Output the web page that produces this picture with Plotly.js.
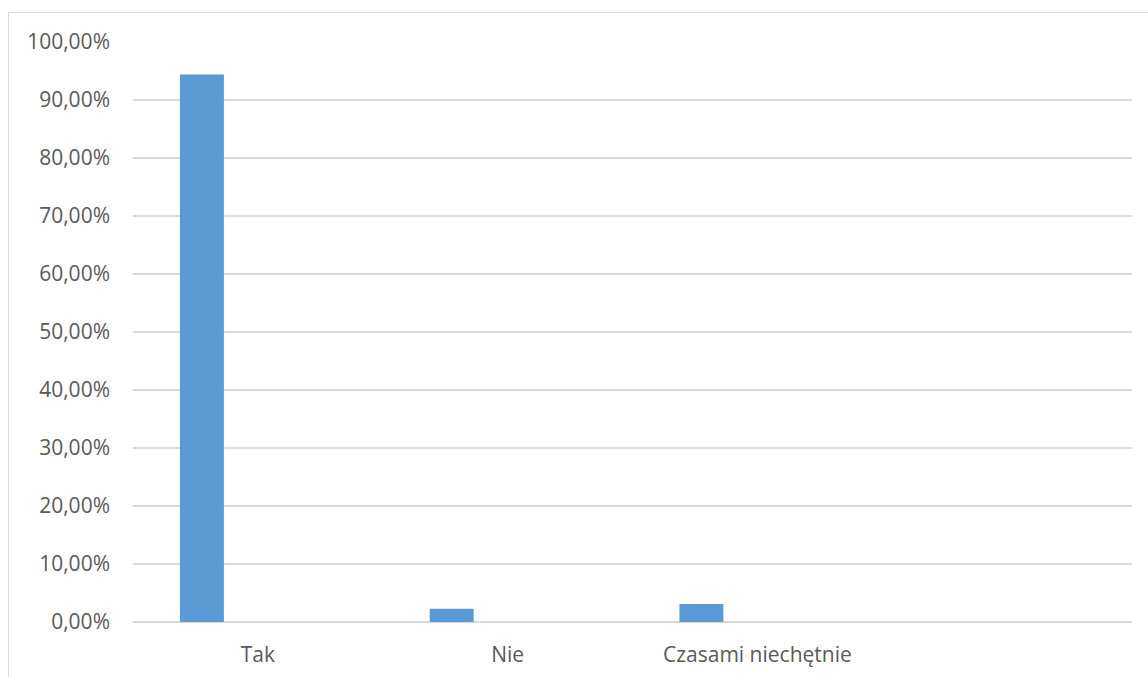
<!DOCTYPE html>
<html>
<head>
<meta charset="utf-8">
<script src="https://cdn.plot.ly/plotly-3.0.1.min.js"></script>
<style>
  html, body { margin: 0; padding: 0; background: #ffffff; }
  #wrap { position: relative; width: 1148px; height: 677px; overflow: hidden; }
  #chart { position: absolute; left: 0; top: 0; width: 1148px; height: 677px; }
  #frame { position: absolute; left: 8px; top: 12px; width: 1200px; height: 700px;
           border-left: 1px solid #d9d9d9; border-top: 1px solid #d9d9d9; pointer-events: none; }
</style>
</head>
<body>
<div id="wrap">
  <div id="chart"></div>
  <div id="frame"></div>
</div>
<script>
  const categories = ['Tak', 'Nie', 'Czasami niechętnie'];
  const values = [0.944, 0.023, 0.031];

  const trace = {
    type: 'bar',
    x: categories,
    y: values,
    width: 0.176,
    offset: -0.312,
    marker: { color: '#5B9BD5', line: { width: 0 } },
    hoverinfo: 'x+y'
  };

  const layout = {
    width: 1148,
    height: 677,
    margin: { l: 133, r: 16, t: 42, b: 55 },
    paper_bgcolor: '#ffffff',
    plot_bgcolor: '#ffffff',
    separators: ', ',
    showlegend: false,
    font: { family: '"Open Sans", Lato, sans-serif', color: '#595959', size: 21 },
    xaxis: {
      type: 'category',
      range: [-0.5, 3.5],
      showgrid: false,
      showline: false,
      zeroline: false,
      ticks: '',
      ticklabelstandoff: 18,
      tickfont: { size: 21, color: '#595959' }
    },
    yaxis: {
      range: [0, 1],
      dtick: 0.1,
      tickformat: '.2%',
      showgrid: true,
      gridcolor: '#d9d9d9',
      gridwidth: 1.5,
      zeroline: true,
      zerolinecolor: '#d9d9d9',
      zerolinewidth: 1.5,
      showline: false,
      ticks: '',
      ticklabelstandoff: 22,
      tickfont: { size: 21, color: '#595959' }
    }
  };

  Plotly.newPlot('chart', [trace], layout, { displayModeBar: false, staticPlot: true });
</script>
</body>
</html>
